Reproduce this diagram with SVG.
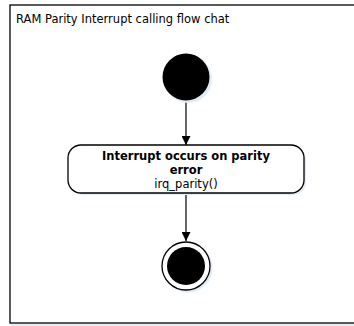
<svg xmlns="http://www.w3.org/2000/svg" width="354" height="326" viewBox="0 0 354 326">
<style>
.t{font-family:"DejaVu Sans",Verdana,sans-serif;font-size:11.5px;fill:#000}
.b{font-weight:bold}
.sh{fill:#e3ebf5}
.ln{stroke:#000;stroke-width:1.2;fill:none}
</style>
<defs>
<marker id="ah" viewBox="0 0 10 10" refX="10" refY="5" markerWidth="9" markerHeight="9" markerUnits="userSpaceOnUse" orient="auto">
<path d="M0,0 L10,5 L0,10 z" fill="#000"/>
</marker>
</defs>
<rect width="354" height="326" fill="#fff"/>
<g id="frame">
<rect x="11" y="7" width="350" height="318" fill="none" stroke="#e8eef6" stroke-width="2"/>
<rect x="10" y="5" width="350" height="318" fill="#fff" stroke="#000" stroke-width="1.3"/>
<text class="t" x="16" y="23">RAM Parity Interrupt calling flow chat</text>
</g>
<g id="connectors">
<line class="ln" x1="186" y1="100" x2="186" y2="145" marker-end="url(#ah)"/>
<line class="ln" x1="186" y1="193" x2="186" y2="241" marker-end="url(#ah)"/>
</g>
<g id="start">
<circle class="sh" cx="188" cy="79" r="24"/>
<circle cx="186" cy="77" r="23.5" fill="#000"/>
</g>
<g id="action">
<rect class="sh" x="70" y="147" width="236" height="48" rx="13"/>
<rect x="68" y="145" width="236" height="48" rx="13" fill="#fff" stroke="#000" stroke-width="1.3"/>
<text class="t b" x="186" y="160" text-anchor="middle">Interrupt occurs on parity</text>
<text class="t b" x="186" y="174" text-anchor="middle">error</text>
<text class="t" x="186" y="188" text-anchor="middle">irq_parity()</text>
</g>
<g id="end">
<circle class="sh" cx="188" cy="268" r="24.5"/>
<circle cx="186" cy="266" r="24" fill="#fff" stroke="#000" stroke-width="1.3"/>
<circle cx="186" cy="266" r="19" fill="#000"/>
</g>
</svg>
